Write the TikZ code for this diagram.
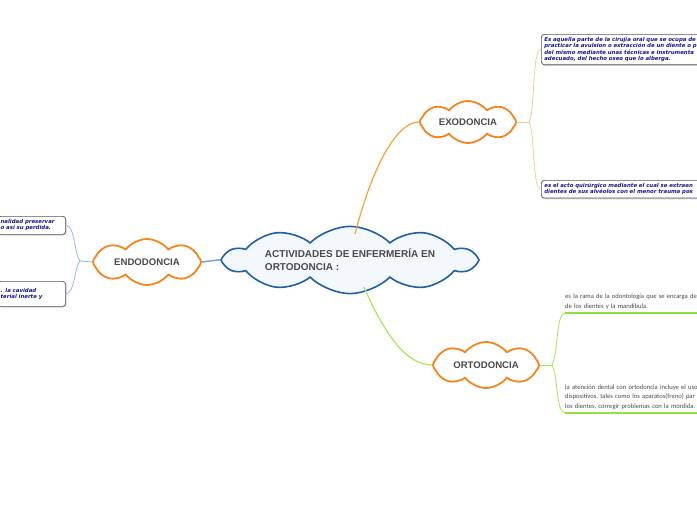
\documentclass[tikz,border=0pt]{standalone}
\usepackage{fontspec}
\setmainfont{Liberation Sans}
\newfontfamily\calfont{Carlito}
\newfontfamily\leaffont{DejaVu Sans}
\usetikzlibrary{shapes.symbols, shadows, positioning}
\definecolor{rootblue}{HTML}{1F5FA3}
\definecolor{rootfill}{HTML}{F3F8FC}
\definecolor{puffor}{HTML}{F5851F}
\definecolor{txtgray}{HTML}{4A4A4A}
\definecolor{leafnavy}{HTML}{16168A}
\definecolor{leafedge}{HTML}{555555}
\definecolor{linkor}{HTML}{F8A232}
\definecolor{linkbl}{HTML}{7399E6}
\definecolor{linkgr}{HTML}{A4EA4E}
\definecolor{exoline}{HTML}{F9CB90}
\definecolor{endoline}{HTML}{99B6EE}
\definecolor{ortoline}{HTML}{8FE040}

\begin{document}
\begin{tikzpicture}[x=1pt, y=-1pt,
  rootcloud/.style={cloud, cloud puffs=10, cloud puff arc=90, aspect=6,
    shape border rotate=18,
    draw=rootblue, line width=1.6pt, fill=rootfill, inner sep=-2pt,
    text=txtgray, font=\fontsize{10}{13}\selectfont\bfseries, align=left},
  subcloud/.style={cloud, cloud puffs=8, cloud puff arc=105, cloud ignores aspect,
    draw=puffor, line width=1.8pt, fill=white, inner sep=0pt,
    text=txtgray, font=\fontsize{9.6}{12}\selectfont\bfseries},
  leafbox/.style={draw=leafedge, line width=0.7pt, fill=white, rounded corners=3pt,
    drop shadow={shadow xshift=0.8pt, shadow yshift=-1.2pt, opacity=0.35},
    inner sep=3pt, align=left, text=leafnavy,
    font=\leaffont\fontsize{5.4}{6.3}\selectfont\bfseries\itshape},
  leafnote/.style={inner xsep=0pt, inner ysep=3pt, align=left, text=txtgray,
    font=\calfont\fontsize{6.6}{9.8}\selectfont}]

% Page
\useasboundingbox (0,0) rectangle (697,520);
\fill[white] (0,0) rectangle (697,520);

%% CENTRE
\node[rootcloud, minimum width=250pt] (root) at (350,260)
  {ACTIVIDADES DE ENFERMERÍA EN\\ORTODONCIA :};

%% MAIN TOPICS
\node[subcloud, minimum width=96pt, minimum height=42pt] (exo) at (468,122) {EXODONCIA};
\node[subcloud, minimum width=108pt, minimum height=46pt] (endo) at (147,262) {ENDODONCIA};
\node[subcloud, minimum width=106pt, minimum height=46pt] (orto) at (486,365) {ORTODONCIA};

% Links from centre
\draw[linkor, line width=1.2pt] (355,234) .. controls (372,168) and (396,122) .. (exo.west);
\draw[linkbl, line width=1.4pt] (endo.east) -- (root.west);
\draw[linkgr, line width=1.2pt] (364,287) .. controls (386,338) and (408,365) .. (orto.west);

%% EXODONCIA leaves
\node[leafbox, anchor=north west, text width=180pt] (exoA) at (541,34)
  {Es aquella parte de la cirujía oral que se ocupa de\\
   practicar la avulsion o extracción de un diente o p\\
   del mismo mediante unas técnicas e instrumenta\\
   adecuado, del hecho oseo que lo alberga.};
\node[leafbox, anchor=north west, text width=180pt] (exoB) at (541,180)
  {es el acto quirúrgico mediante el cual se extraen\\
   dientes de sus alvéolos con el menor trauma pos};

\coordinate (exoJ) at (529,122);
\draw[exoline, line width=0.8pt] (exo.east) -- (exoJ);
\draw[exoline, line width=0.8pt] (exoJ) .. controls (535,112) and (532,49) .. (exoA.west);
\draw[exoline, line width=0.8pt] (exoJ) .. controls (535,132) and (532,189) .. (exoB.west);

%% ENDODONCIA leaves
\node[leafbox, anchor=north east, text width=62pt, minimum height=18pt] (endoA) at (66,216)
  {nalidad preservar\\o así su perdida.};
\node[leafbox, anchor=north east, text width=62pt, minimum height=25pt, align=left] (endoB) at (66,281)
  {. la cavidad\\terial inerte y\\[6pt]};

\coordinate (endoJ) at (80,261);
\draw[endoline, line width=0.8pt] (endo.west) -- (endoJ);
\draw[endoline, line width=0.8pt] (endoJ) .. controls (74,254) and (75,225) .. (endoA.east);
\draw[endoline, line width=0.8pt] (endoJ) .. controls (74,268) and (75,293) .. (endoB.east);

%% ORTODONCIA leaves
\node[leafnote, anchor=south west, text width=170pt] (ortoA) at (565,313)
  {es la rama de la odontología que se encarga de\\de los dientes y la mandíbula.};
\node[leafnote, anchor=south west, text width=170pt] (ortoB) at (565,413)
  {la atención dental con ortodoncia incluye el uso\\
   dispositivos, tales como los aparatos(freno) par\\
   los dientes, corregir problemas con la mordida.};
\draw[ortoline, line width=2pt] (ortoA.south west) -- (ortoA.south east);
\draw[ortoline, line width=2pt] (ortoB.south west) -- (ortoB.south east);

\coordinate (ortoJ) at (552,365);
\draw[linkgr, line width=0.8pt] (orto.east) -- (ortoJ);
\draw[linkgr, line width=0.8pt] (ortoJ) .. controls (558,355) and (556,313) .. (ortoA.south west);
\draw[linkgr, line width=0.8pt] (ortoJ) .. controls (558,375) and (556,413) .. (ortoB.south west);

\end{tikzpicture}
\end{document}
